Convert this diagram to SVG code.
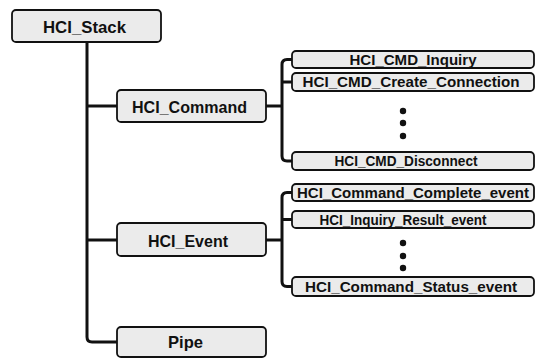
<svg xmlns="http://www.w3.org/2000/svg" width="537" height="358" viewBox="0 0 537 358">
<style>
.box{fill:#ebebeb;stroke:#111;stroke-width:1.8}
.big{font-family:"Liberation Sans",Arial,sans-serif;font-weight:bold;font-size:17px;fill:#111;text-anchor:middle}
.sm{font-family:"Liberation Sans",Arial,sans-serif;font-weight:bold;font-size:14px;fill:#111;text-anchor:middle}
.ln{fill:none;stroke:#111;stroke-width:3}
.dot{fill:#111}
</style>
<rect width="537" height="358" fill="#fff"/>
<g id="connectors">
<path class="ln" d="M87,42 V337 Q87,342 92,342 H117"/>
<path class="ln" d="M87,106 H117"/>
<path class="ln" d="M87,240 H117"/>
<path class="ln" d="M266,106 H282"/>
<path class="ln" d="M292,59.5 H287 Q282,59.5 282,64.5 V156 Q282,161 287,161 H292"/>
<path class="ln" d="M282,82 H292"/>
<path class="ln" d="M266,240 H282"/>
<path class="ln" d="M292,192.5 H287 Q282,192.5 282,197.5 V281.5 Q282,286.5 287,286.5 H292"/>
<path class="ln" d="M282,219.5 H292"/>
<circle class="dot" cx="403" cy="111" r="3.2"/>
<circle class="dot" cx="403" cy="123" r="3.2"/>
<circle class="dot" cx="403" cy="136" r="3.2"/>
<circle class="dot" cx="403" cy="243" r="3.2"/>
<circle class="dot" cx="403" cy="256" r="3.2"/>
<circle class="dot" cx="403" cy="268" r="3.2"/>
</g>
<g id="hci_stack"><rect class="box" x="12" y="10" width="149" height="32" rx="4"/><text class="big" x="84.5" y="33" textLength="83" lengthAdjust="spacingAndGlyphs">HCI_Stack</text></g>
<g id="hci_command"><rect class="box" x="117" y="90" width="149" height="32" rx="4"/><text class="big" x="189.5" y="113" textLength="115" lengthAdjust="spacingAndGlyphs">HCI_Command</text></g>
<g id="hci_event"><rect class="box" x="117" y="223" width="149" height="33" rx="4"/><text class="big" x="188" y="247" textLength="80" lengthAdjust="spacingAndGlyphs">HCI_Event</text></g>
<g id="pipe"><rect class="box" x="117" y="327" width="149" height="30" rx="4"/><text class="big" x="185.5" y="348" textLength="35" lengthAdjust="spacingAndGlyphs">Pipe</text></g>
<g id="cmd_inquiry"><rect class="box" x="292" y="51" width="242" height="17" rx="4"/><text class="sm" x="413" y="64.5" textLength="127" lengthAdjust="spacingAndGlyphs">HCI_CMD_Inquiry</text></g>
<g id="cmd_create"><rect class="box" x="292" y="73" width="242" height="18" rx="4"/><text class="sm" x="411" y="87" textLength="217" lengthAdjust="spacingAndGlyphs">HCI_CMD_Create_Connection</text></g>
<g id="cmd_disconnect"><rect class="box" x="292" y="152" width="242" height="18" rx="4"/><text class="sm" x="406" y="166" textLength="143" lengthAdjust="spacingAndGlyphs">HCI_CMD_Disconnect</text></g>
<g id="ev_complete"><rect class="box" x="292" y="184" width="242" height="17" rx="4"/><text class="sm" x="413" y="197.5" textLength="232" lengthAdjust="spacingAndGlyphs">HCI_Command_Complete_event</text></g>
<g id="ev_result"><rect class="box" x="292" y="211" width="242" height="17" rx="4"/><text class="sm" x="403" y="224.5" textLength="167" lengthAdjust="spacingAndGlyphs">HCI_Inquiry_Result_event</text></g>
<g id="ev_status"><rect class="box" x="292" y="277" width="242" height="19" rx="4"/><text class="sm" x="411" y="292" textLength="212" lengthAdjust="spacingAndGlyphs">HCI_Command_Status_event</text></g>
</svg>
